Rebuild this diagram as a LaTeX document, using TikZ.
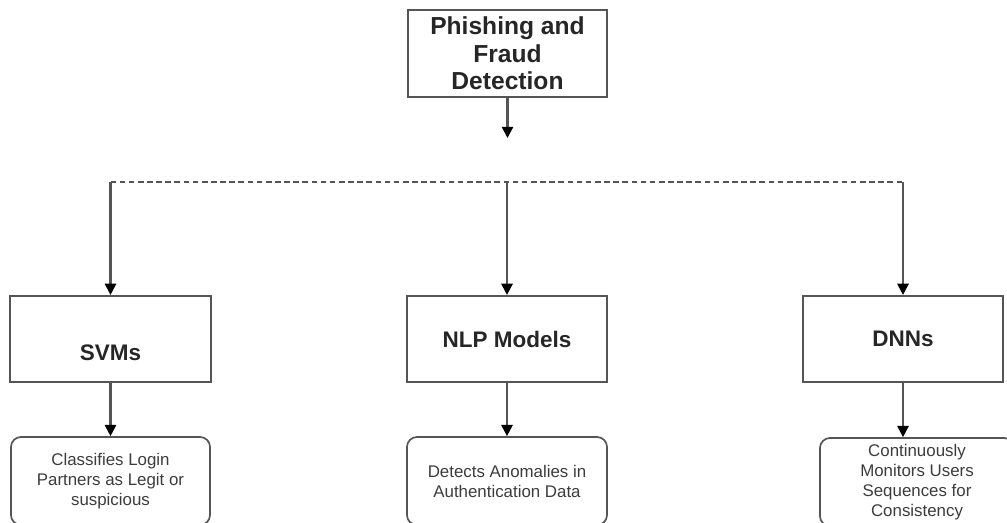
\documentclass[tikz,border=0pt]{standalone}
\usepackage{fontspec}
\setmainfont{Liberation Sans}
\usepackage{xcolor}
\usetikzlibrary{arrows.meta}

\definecolor{linegray}{RGB}{85,85,85}
\definecolor{textgray}{RGB}{60,60,60}

\tikzset{
  topbox/.style={draw=linegray, line width=1.5pt, minimum width=4.975cm, minimum height=2.175cm,
    align=center, font=\fontsize{17.5}{19.5}\selectfont\bfseries, text=black!85},
  modelbox/.style={draw=linegray, line width=1.5pt, minimum width=5cm, minimum height=2.15cm,
    align=center, font=\fontsize{16}{18}\selectfont\bfseries, text=black!85},
  descbox/.style={draw=linegray, line width=1.2pt, rounded corners=0.25cm, minimum width=4.975cm,
    minimum height=2.2cm, align=center, font=\fontsize{12}{14.2}\selectfont, text=textgray},
  flow/.style={draw=linegray, line width=1.5pt, -{Triangle[length=8pt,width=8pt,color=black]}},
  bus/.style={draw=linegray, line width=1.2pt, dash pattern=on 4pt off 2.5pt}
}

\begin{document}
\begin{tikzpicture}[x=0.025cm, y=-0.025cm]
    \useasboundingbox (0,0) rectangle (1007,522);
    \clip (0,0) rectangle (1007,522);

    % Top - main task
    \node[topbox] (root) at (507.5,53.5) {Phishing and\\Fraud\\Detection};
    \coordinate (roottip) at (507.5,138);
    \draw[flow] (root) -- (roottip);

    % Dashed bus line
    \coordinate (busL) at (110.5,182);
    \coordinate (busM) at (507,182);
    \coordinate (busR) at (903,182);
    \draw[bus] (busL) -- (busR);

    % Column 1 - SVMs
    \node[modelbox, minimum width=5.025cm] (svm) at (110.5,339) {\raisebox{-15.5pt}[0pt][0pt]{SVMs}};
    \node[descbox] (svmdesc) at (110.5,481) {Classifies Login\\Partners as Legit or\\suspicious};
    \draw[flow] (busL) -- (svm);
    \draw[flow] (svm) -- (svmdesc);

    % Column 2 - NLP Models
    \node[modelbox] (nlp) at (507,339) {NLP Models};
    \node[descbox, minimum width=5cm] (nlpdesc) at (507,481) {Detects Anomalies in\\Authentication Data};
    \draw[flow] (busM) -- (nlp);
    \draw[flow] (nlp) -- (nlpdesc);

    % Column 3 - DNNs
    \node[modelbox] (dnn) at (903,339) {DNNs};
    \node[descbox, minimum width=4.85cm] (dnndesc) at (917,482) {Continuously\\Monitors Users\\Sequences for\\Consistency};
    \draw[flow] (busR) -- (dnn);
    \draw[flow] (dnn) -- (dnn |- dnndesc.north);

\end{tikzpicture}
\end{document}
